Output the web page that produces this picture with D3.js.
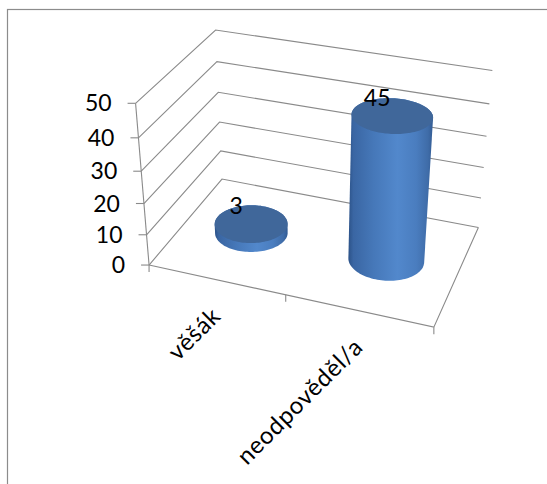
<!DOCTYPE html>
<html>
<head>
<meta charset="utf-8">
<script src="https://cdn.jsdelivr.net/npm/d3@7"></script>
<style>
  html, body { margin: 0; padding: 0; background: #ffffff; }
  svg { display: block; }
  text { font-family: Lato, "Open Sans", sans-serif; fill: #000; }
</style>
</head>
<body>
<div id="chart"></div>
<script>
// Answers and counts
const categories = ["věšák", "neodpověděl/a"];
const counts = [3, 45];
const valueTicks = [0, 10, 20, 30, 40, 50];
const valueMax = 50;

const width = 547, height = 484;

// 3D box corners (world X: category axis, Y: value, Z: depth) and where they land on screen
const anchors = [
  [[0, 0, 0], [149, 265]],
  [[0, 1, 0], [135.5, 103.5]],
  [[0, 0, 1], [222, 179]],
  [[0, 1, 1], [215.7, 30]],
  [[1, 0, 1], [478.3, 227.7]],
  [[1, 1, 1], [492.3, 70.3]],
  [[1, 0, 0], [434, 327]]
];

// Fit a perspective camera (3x4 projective matrix) to the anchor points
function fitCamera(pairs) {
  const ox = 300, oy = 200, s = 100;
  const A = [], b = [];
  pairs.forEach(([[X, Y, Z], [U, V]]) => {
    const u = (U - ox) / s, v = (V - oy) / s;
    A.push([X, Y, Z, 1, 0, 0, 0, 0, -u * X, -u * Y, -u * Z]); b.push(u);
    A.push([0, 0, 0, 0, X, Y, Z, 1, -v * X, -v * Y, -v * Z]); b.push(v);
  });
  const n = 11;
  const M = d3.range(n).map(i => {
    const row = new Array(n + 1).fill(0);
    for (let j = 0; j < n; j++) for (let k = 0; k < A.length; k++) row[j] += A[k][i] * A[k][j];
    for (let k = 0; k < A.length; k++) row[n] += A[k][i] * b[k];
    return row;
  });
  for (let c = 0; c < n; c++) {
    let p = c;
    for (let r = c + 1; r < n; r++) if (Math.abs(M[r][c]) > Math.abs(M[p][c])) p = r;
    [M[c], M[p]] = [M[p], M[c]];
    for (let r = 0; r < n; r++) {
      if (r === c) continue;
      const f = M[r][c] / M[c][c];
      for (let k = c; k <= n; k++) M[r][k] -= f * M[c][k];
    }
  }
  const q = M.map((row, i) => row[n] / row[i]);
  return (X, Y, Z) => {
    const w = q[8] * X + q[9] * Y + q[10] * Z + 1;
    return [
      ox + s * (q[0] * X + q[1] * Y + q[2] * Z + q[3]) / w,
      oy + s * (q[4] * X + q[5] * Y + q[6] * Z + q[7]) / w
    ];
  };
}
const project = fitCamera(anchors);

// Scales: categories along X, values up Y
const x = d3.scaleBand().domain(categories).range([0, 1]);
const y = d3.scaleLinear().domain([0, valueMax]).range([0, 1]);
const P = (cx, v, z) => project(cx, y(v), z);

const svg = d3.select("#chart").append("svg")
  .attr("width", width).attr("height", height);

const defs = svg.append("defs");
const grad = defs.append("linearGradient").attr("id", "cylSide")
  .attr("x1", 0).attr("x2", 1).attr("y1", 0).attr("y2", 0);
[
  [0, "#2c5288"], [0.06, "#3a66a3"], [0.3, "#4678b9"], [0.58, "#5288cc"],
  [0.8, "#4a7dbf"], [0.94, "#3f6ca8"], [1, "#325b93"]
].forEach(([o, c]) => grad.append("stop").attr("offset", o).attr("stop-color", c));

// Chart area frame
svg.append("rect")
  .attr("x", 7.5).attr("y", 9.5).attr("width", 560).attr("height", 500)
  .attr("fill", "none").attr("stroke", "#8c8c8c").attr("stroke-width", 1.2);

const line = d3.line();
const gridColor = "#8a8a8a";

// Gridlines on side and back walls
svg.append("g").selectAll("path").data(valueTicks).join("path")
  .attr("d", v => line([P(0, v, 0), P(0, v, 1), P(1, v, 1)]))
  .attr("fill", "none").attr("stroke", gridColor).attr("stroke-width", 1.1);

// Floor edges: category axis (front) and right edge
svg.append("path")
  .attr("d", line([P(0, 0, 0), P(1, 0, 0), P(1, 0, 1)]))
  .attr("fill", "none").attr("stroke", gridColor).attr("stroke-width", 1.1);

// Value axis and its tick marks
svg.append("path")
  .attr("d", line([P(0, 0, 0), P(0, valueMax, 0)]))
  .attr("fill", "none").attr("stroke", gridColor).attr("stroke-width", 1.1);
svg.append("g").selectAll("path").data(valueTicks).join("path")
  .attr("d", v => { const [px, py] = P(0, v, 0); return line([[px - 8, py], [px, py]]); })
  .attr("fill", "none").attr("stroke", gridColor).attr("stroke-width", 1.1);

// Category tick marks at band edges
const catEdges = [0, ...categories.map(c => x(c) + x.bandwidth())];
svg.append("g").selectAll("path").data(catEdges).join("path")
  .attr("d", e => { const [px, py] = project(e, 0, 0); return line([[px, py], [px, py + 7]]); })
  .attr("fill", "none").attr("stroke", gridColor).attr("stroke-width", 1.1);

// Value tick labels
svg.append("g").selectAll("text").data(valueTicks).join("text")
  .attr("x", v => P(0, v, 0)[0] - 24)
  .attr("y", v => P(0, v, 0)[1])
  .attr("dy", "0.35em")
  .attr("text-anchor", "end")
  .attr("font-size", 23)
  .text(v => v);

// Cylinders
const rx = 0.13, rz = 0.2, zc = 0.5;
const angles = d3.range(0, 360, 3).map(a => a * Math.PI / 180);
const data = categories.map((c, i) => ({ c, v: counts[i], cx: x(c) + x.bandwidth() / 2 }));

const cyl = svg.append("g").selectAll("g").data(data).join("g");
cyl.append("path")
  .attr("d", d => {
    const pts = [];
    angles.forEach(t => {
      pts.push(project(d.cx + rx * Math.cos(t), 0, zc + rz * Math.sin(t)));
      pts.push(P(d.cx + rx * Math.cos(t), d.v, zc + rz * Math.sin(t)));
    });
    return line(d3.polygonHull(pts)) + "Z";
  })
  .attr("fill", "url(#cylSide)");
cyl.append("path")
  .attr("d", d => line(angles.map(t => P(d.cx + rx * Math.cos(t), d.v, zc + rz * Math.sin(t)))) + "Z")
  .attr("fill", "#40679a");

// Value labels above cylinder tops
cyl.append("text")
  .attr("x", d => P(d.cx, d.v, zc)[0] - 15)
  .attr("y", d => P(d.cx, d.v, zc)[1] - 10)
  .attr("text-anchor", "middle")
  .attr("font-size", 23)
  .text(d => d.v);

// Category labels, rotated
svg.append("g").selectAll("text").data(data).join("text")
  .attr("transform", d => {
    const [px, py] = project(d.cx, 0, 0);
    return `translate(${px + 6},${py + 38}) rotate(-45)`;
  })
  .attr("text-anchor", "end")
  .attr("font-size", 24)
  .attr("letter-spacing", "0.6px")
  .text(d => d.c);
</script>
</body>
</html>
